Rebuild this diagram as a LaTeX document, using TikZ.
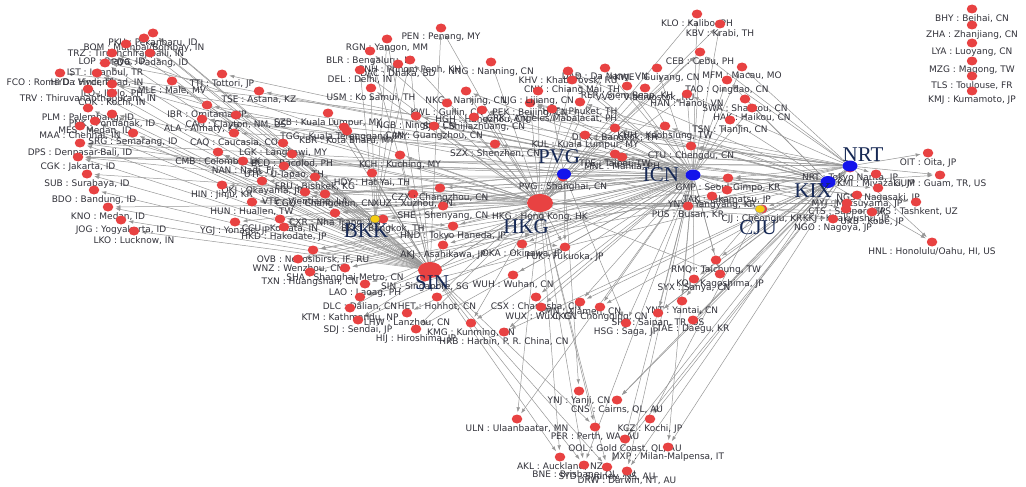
\documentclass[tikz,border=0pt]{standalone}
\usepackage{fontspec}
\setmainfont{DejaVu Sans}
\newfontfamily\hubserif{Liberation Serif}
\usetikzlibrary{arrows.meta,positioning,shapes.geometric}
\definecolor{dotred}{RGB}{232,66,66}
\definecolor{hubblue}{RGB}{20,20,235}
\definecolor{hubyellow}{RGB}{245,205,20}
\definecolor{edgegray}{RGB}{150,150,150}
\definecolor{textgray}{RGB}{50,50,58}
\definecolor{hubnavy}{RGB}{22,40,84}
\pgfdeclarelayer{edges}
\pgfdeclarelayer{leaves}
\pgfsetlayers{edges,leaves,main}
\begin{document}
\begin{tikzpicture}[x=1pt, y=-1pt,
    airport/.style={ellipse, fill=dotred, inner sep=0pt, minimum width=10.5pt, minimum height=9pt},
    apname/.style={font=\fontsize{9}{10}\selectfont, text=textgray, inner sep=0.4pt},
    hub/.style={ellipse, inner sep=0pt},
    hubname/.style={font=\hubserif\fontsize{21}{21}\selectfont, text=hubnavy, inner sep=0pt},
    route/.style={draw=edgegray, line width=0.5pt, -{Latex[length=5pt,width=3.5pt]}, shorten >=2pt}]
    \useasboundingbox (0,0) rectangle (1026,487);

    \node[hub, fill=dotred, minimum width=26pt, minimum height=18pt] (HKG) at (540,203) {};
    \node[hub, fill=dotred, minimum width=24pt, minimum height=16pt] (SIN) at (430,270) {};
    \node[hub, fill=hubblue, minimum width=14pt, minimum height=11pt] (PVG) at (564,174) {};
    \node[hub, fill=hubblue, minimum width=15pt, minimum height=11pt] (ICN) at (693,175) {};
    \node[hub, fill=hubblue, minimum width=15pt, minimum height=11pt] (NRT) at (850,166) {};
    \node[hub, fill=hubblue, minimum width=15pt, minimum height=12pt] (KIX) at (828,182) {};
    \node[hub, fill=hubyellow, draw=black!60, minimum width=10pt, minimum height=8pt] (BKK) at (375,219) {};
    \node[hub, fill=hubyellow, draw=black!40, minimum width=10pt, minimum height=8pt] (CJU) at (760,209) {};

    \node[hubname] (tPVG) at (559,157) {PVG};
    \node[hubname] (tHKG) at (526,227) {HKG};
    \node[hubname] (tBKK) at (366,231) {BKK};
    \node[hubname] (tSIN) at (432,283) {SIN};
    \node[hubname] (tICN) at (661,175) {ICN};
    \node[hubname] (tCJU) at (758,228) {CJU};
    \node[hubname] (tKIX) at (813,191) {KIX};
    \node[hubname] (tNRT) at (863,155) {NRT};

    \foreach \c/\x/\y/\t/\hs in {
        PKU/153/33/{PKU : Pekanbaru, ID}/{SIN,BKK},
        BOM/144/38/{BOM : Mumbai/Bombay, IN}/{SIN,BKK},
        TRZ/126/44/{TRZ : Tiruchchirappalli, IN}/{SIN},
        LOP/112/53/{LOP : Praya, ID}/{SIN,HKG},
        PDG/150/53/{PDG : Padang, ID}/{SIN},
        IST/105/63/{IST : Istanbul, TR}/{ICN,SIN},
        FCO/60/73/{FCO : Roma Da Vinci, IT}/{NRT},
        HYD/97/73/{HYD : Hyderabad, IN}/{SIN,HKG},
        TTJ/222/74/{TTJ : Tottori, JP}/{ICN},
        MLE/172/81/{MLE : Male, MV}/{SIN,BKK},
        ILO/112/84/{ILO : Iloilo, PH}/{HKG,ICN},
        TRV/88/89/{TRV : Thiruvananthapuram, IN}/{SIN},
        TSE/259/91/{TSE : Astana, KZ}/{ICN},
        COK/112/93/{COK : Kochi, IN}/{SIN},
        IBR/207/105/{IBR : Omitama, JP}/{PVG},
        PLM/88/108/{PLM : Palembang, ID}/{SIN},
        CAO/236/115/{CAO : Clayton, NM, US}/{KIX},
        PNK/112/114/{PNK : Pontianak, ID}/{SIN,HKG},
        ALA/202/119/{ALA : Almaty, KZ}/{ICN,KIX},
        MES/95/121/{MES : Medan, ID}/{SIN},
        MAA/80/126/{MAA : Chennai, IN}/{SIN,BKK},
        SRG/133/133/{SRG : Semarang, ID}/{SIN},
        CAQ/234/133/{CAQ : Caucasia, CO}/{NRT},
        DPS/80/143/{DPS : Denpasar-Bali, ID}/{SIN,HKG,ICN},
        LGK/283/143/{LGK : Langkawi, MY}/{SIN},
        CMB/218/152/{CMB : Colombo, LK}/{SIN,BKK},
        BCD/292/154/{BCD : Bacolod, PH}/{SIN,HKG},
        CGK/78/157/{CGK : Jakarta, ID}/{SIN,HKG,ICN,NRT,KIX},
        NAN/243/161/{NAN : Nadi, FJ}/{ICN,NRT},
        UTP/284/166/{UTP : U-Tapao, TH}/{SIN},
        SUB/87/174/{SUB : Surabaya, ID}/{SIN,HKG},
        HDY/372/173/{HDY : Hat Yai, TH}/{SIN},
        OKJ/262/181/{OKJ : Okayama, JP}/{ICN},
        HIN/222/185/{HIN : Jinju, KR}/{CJU},
        FRU/315/177/{FRU : Bishkek, KG}/{ICN},
        BDO/94/190/{BDO : Bandung, ID}/{SIN},
        VTE/305/192/{VTE : Vientiane, LA}/{BKK,HKG},
        CGQ/325/194/{CGQ : Changchun, CN}/{ICN,PVG},
        XUZ/413/194/{XUZ : Xuzhou, CN}/{ICN},
        CZX/440/188/{CZX : Changzhou, CN}/{ICN},
        HUN/252/202/{HUN : Hualien, TW}/{HKG,PVG},
        KNO/108/207/{KNO : Medan, ID}/{SIN,HKG},
        SHE/443/206/{SHE : Shenyang, CN}/{ICN,BKK},
        CXR/335/213/{CXR : Nha Trang, VN}/{HKG,ICN},
        BKK/383/219/{BKK : Bangkok, TH}/{HKG,SIN},
        JOG/121/220/{JOG : Yogyakarta, ID}/{SIN},
        CCU/280/219/{CCU : Kolkata, IN}/{SIN,BKK},
        YGJ/235/222/{YGJ : Yonago, JP}/{ICN},
        HKD/284/227/{HKD : Hakodate, JP}/{ICN,HKG},
        HND/453/226/{HND : Tokyo Haneda, JP}/{SIN,BKK,HKG},
        LKO/134/231/{LKO : Lucknow, IN}/{SIN},
        KCH/400/155/{KCH : Kuching, MY}/{SIN,HKG},
        AKJ/443/245/{AKJ : Asahikawa, JP}/{ICN},
        OVB/313/250/{OVB : Novosibirsk, IF, RU}/{ICN,NRT},
        WNZ/298/259/{WNZ : Wenzhou, CN}/{ICN,KIX},
        SHA/345/268/{SHA : Shanghai-Metro, CN}/{KIX,NRT},
        TXN/310/272/{TXN : Huangshan, CN}/{ICN},
        SIN/425/277/{SIN : Singapore, SG}/{HKG,ICN},
        LAO/365/284/{LAO : Laoag, PH}/{ICN},
        DLC/360/297/{DLC : Dalian, CN}/{ICN,KIX},
        HET/437/297/{HET : Hohhot, CN}/{PVG},
        KTM/350/308/{KTM : Kathmandu, NP}/{HKG},
        LHW/407/313/{LHW : Lanzhou, CN}/{ICN},
        SDJ/358/320/{SDJ : Sendai, JP}/{ICN,HKG},
        HIJ/416/329/{HIJ : Hiroshima, JP}/{ICN,HKG},
        KMG/471/323/{KMG : Kunming, CN}/{HKG,ICN},
        HRB/504/332/{HRB : Harbin, P. R. China, CN}/{ICN,KIX},
        WUH/513/275/{WUH : Wuhan, CN}/{ICN},
        OKA/522/244/{OKA : Okinawa, JP}/{HKG,ICN,PVG},
        FUK/565/247/{FUK : Fukuoka, JP}/{HKG,BKK,PVG},
        CSX/536/297/{CSX : Changsha, CN}/{ICN},
        XMN/580/302/{XMN : Xiamen, CN}/{ICN,KIX},
        WUX/541/307/{WUX : Wuxi, CN}/{ICN},
        CKG/600/307/{CKG : Chongqing, CN}/{ICN,KIX},
        YNT/682/301/{YNT : Yantai, CN}/{ICN,CJU},
        SPN/658/313/{SPN : Saipan, TR, US}/{ICN,NRT,KIX},
        HSG/626/323/{HSG : Saga, JP}/{ICN,PVG},
        TAE/693/320/{TAE : Daegu, KR}/{KIX,NRT},
        RMQ/716/260/{RMQ : Taichung, TW}/{ICN,KIX},
        KOJ/720/274/{KOJ : Kagoshima, JP}/{ICN,HKG},
        SYX/694/279/{SYX : Sanya, CN}/{ICN,KIX},
        PEN/441/28/{PEN : Penang, MY}/{HKG,SIN},
        RGN/387/39/{RGN : Yangon, MM}/{SIN,BKK},
        BLR/370/51/{BLR : Bengaluru, IN}/{SIN,HKG},
        PNH/410/60/{PNH : Phnom Penh, KH}/{SIN,HKG,BKK},
        DAC/398/64/{DAC : Dhaka, BD}/{BKK},
        NNG/491/62/{NNG : Nanning, CN}/{HKG},
        DEL/360/70/{DEL : Delhi, IN}/{HKG,BKK},
        USM/371/88/{USM : Ko Samui, TH}/{BKK,HKG},
        NKG/466/91/{NKG : Nanjing, CN}/{HKG,ICN},
        KWL/447/103/{KWL : Guilin, CN}/{HKG},
        PEK/530/103/{PEK : Beijing, CN}/{HKG,ICN,NRT,KIX},
        HGH/482/110/{HGH : Hangzhou, CN}/{HKG,ICN,NRT},
        SZB/328/113/{SZB : Kuala Lumpur, MY}/{SIN},
        NGB/416/116/{NGB : Ningbo, CN}/{ICN},
        SJW/474/117/{SJW : Shijiazhuang, CN}/{ICN},
        TGG/344/127/{TGG : Kuala Terengganu, MY}/{SIN},
        CAN/434/126/{CAN : Guangzhou, CN}/{HKG,ICN},
        KBR/347/131/{KBR : Kota Bharu, MY}/{SIN},
        SZX/495/144/{SZX : Shenzhen, CN}/{ICN},
        KLO/697/14/{KLO : Kalibo, PH}/{ICN,PVG},
        KBV/720/24/{KBV : Krabi, TH}/{ICN,HKG},
        CEB/700/52/{CEB : Cebu, PH}/{ICN,HKG,PVG,NRT},
        DAD/605/68/{DAD : Da Nang, VN}/{ICN,HKG},
        KWE/657/68/{KWE : Guiyang, CN}/{ICN},
        MFM/742/67/{MFM : Macau, MO}/{ICN,NRT},
        KHV/568/71/{KHV : Khabarovsk, RU}/{ICN,KIX},
        CNX/572/80/{CNX : Chiang Mai, TH}/{ICN,HKG},
        TAO/727/80/{TAO : Qingdao, CN}/{ICN,KIX,NRT},
        REP/627/86/{REP : Siem Reap, KH}/{ICN},
        VVO/645/88/{VVO : Vladivostok, RU}/{ICN,HKG},
        LJG/538/91/{LJG : Lijiang, CN}/{HKG},
        HAN/687/94/{HAN : Hanoi, VN}/{ICN,HKG,NRT},
        SWA/745/99/{SWA : Shantou, CN}/{KIX},
        HKT/580/102/{HKT : Phuket, TH}/{ICN,HKG,KIX},
        CRK/552/109/{CRK : Angeles/Mabalacat, PH}/{ICN,PVG},
        HAK/752/108/{HAK : Haikou, CN}/{ICN},
        TSN/730/120/{TSN : Tianjin, CN}/{ICN,KIX},
        KHH/665/126/{KHH : Kaohsiung, TW}/{HKG,KIX},
        DMK/615/128/{DMK : Bangkok, TH}/{ICN,KIX},
        KUL/585/135/{KUL : Kuala Lumpur, MY}/{HKG,ICN,NRT},
        CTU/691/146/{CTU : Chengdu, CN}/{KIX,NRT},
        TPE/615/154/{TPE : Taipei, TW}/{HKG,ICN,NRT},
        MNL/622/157/{MNL : Manila, PH}/{ICN,PVG,KIX},
        PVG/563/177/{PVG : Shanghai, CN}/{HKG},
        HKG/540/208/{HKG : Hong Kong, HK}/{ICN},
        GMP/728/178/{GMP : Seoul-Gimpo, KR}/{KIX,NRT},
        TAK/727/190/{TAK : Takamatsu, JP}/{ICN},
        YNY/712/196/{YNY : Yangyang, KR}/{CJU},
        PUS/688/206/{PUS : Busan, KR}/{HKG,NRT},
        CJJ/762/209/{CJJ : Cheongju, KR}/{KIX},
        NRT/850/168/{NRT : Tokyo Narita, JP}/{KIX},
        KMI/876/174/{KMI : Miyazaki, JP}/{NRT},
        NGS/878/188/{NGS : Nagasaki, JP}/{ICN},
        MYJ/857/195/{MYJ : Matsuyama, JP}/{ICN},
        CTS/847/203/{CTS : Sapporo, JP}/{ICN,HKG},
        TAS/916/202/{TAS : Tashkent, UZ}/{ICN},
        KKJ/846/209/{KKJ : Kitakyushu, JP}/{ICN},
        UKB/872/212/{UKB : Kobe, JP}/{HKG},
        NGO/833/219/{NGO : Nagoya, JP}/{HKG,PVG},
        OIT/928/153/{OIT : Oita, JP}/{NRT},
        GUM/940/175/{GUM : Guam, TR, US}/{NRT,KIX},
        HNL/932/242/{HNL : Honolulu/Oahu, HI, US}/{NRT,KIX},
        YNJ/579/391/{YNJ : Yanji, CN}/{PVG},
        CNS/617/400/{CNS : Cairns, QL, AU}/{NRT,KIX},
        ULN/517/419/{ULN : Ulaanbaatar, MN}/{HKG,ICN},
        KCZ/650/419/{KCZ : Kochi, JP}/{CJU,NRT},
        PER/595/427/{PER : Perth, WA, AU}/{SIN,HKG},
        OOL/625/439/{OOL : Gold Coast, QL, AU}/{ICN,KIX},
        MXP/668/447/{MXP : Milan-Malpensa, IT}/{ICN,NRT},
        AKL/560/457/{AKL : Auckland, NZ}/{SIN,HKG},
        BNE/584/465/{BNE : Brisbane, QL, AU}/{SIN,HKG,ICN},
        SYD/607/467/{SYD : Sydney, NS, AU}/{SIN,HKG,NRT},
        DRW/627/471/{DRW : Darwin, NT, AU}/{ICN,KIX}}{
        \begin{pgfonlayer}{leaves}
            \node[airport] (l\c) at (\x,\y) {};
            \node[apname, below=0pt of l\c] (n\c) {\t};
        \end{pgfonlayer}
        \begin{pgfonlayer}{edges}
            \foreach \h in \hs {\draw[route] (\h) -- (l\c);}
        \end{pgfonlayer}
    }

    \foreach \c/\y/\t in {BHY/9/{BHY : Beihai, CN}, ZHA/25/{ZHA : Zhanjiang, CN},
        LYA/43/{LYA : Luoyang, CN}, MZG/61/{MZG : Magong, TW},
        TLS/76/{TLS : Toulouse, FR}, KMJ/91/{KMJ : Kumamoto, JP}}{
        \node[airport] (l\c) at (972,\y) {};
        \node[apname, below=0pt of l\c] (n\c) {\t};
    }
\end{tikzpicture}
\end{document}
